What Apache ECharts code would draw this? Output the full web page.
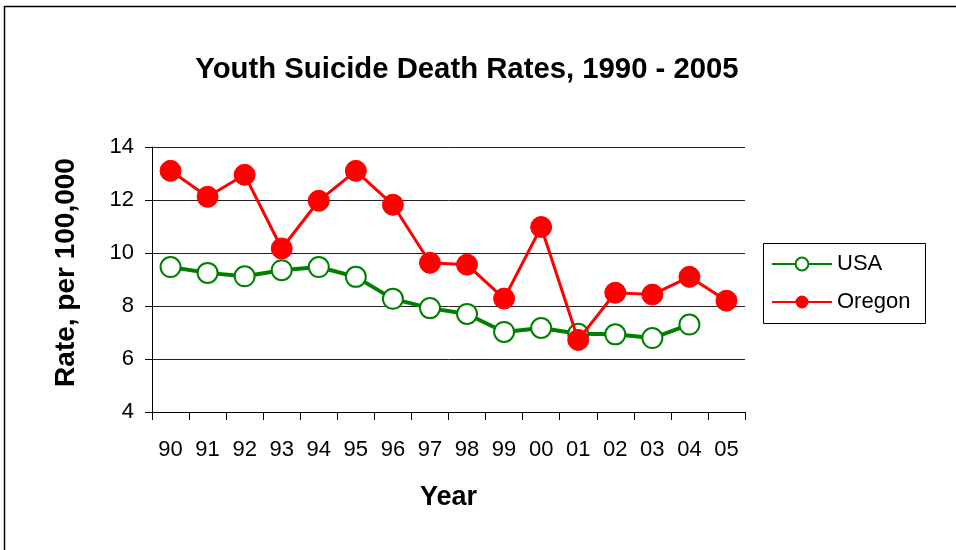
<!DOCTYPE html>
<html><head><meta charset="utf-8">
<script src="https://cdn.jsdelivr.net/npm/echarts@6/dist/echarts.min.js"></script>
<style>html,body{margin:0;padding:0;background:#fff}#c{width:956px;height:550px}</style>
</head><body><div id="c"></div>
<script>
const years = ['90','91','92','93','94','95','96','97','98','99','00','01','02','03','04','05'];
const usa = [9.47, 9.25, 9.12, 9.35, 9.47, 9.1, 8.27, 7.92, 7.7, 7.02, 7.17, 6.95, 6.93, 6.79, 7.3, null];
const oregon = [13.1, 12.12, 12.95, 10.17, 11.97, 13.1, 11.82, 9.63, 9.56, 8.28, 10.98, 6.72, 8.5, 8.43, 9.1, 8.2];
const font = 'Liberation Sans, Arial, sans-serif';
const chart = echarts.init(document.getElementById('c'));
chart.setOption({
  animation: false,
  backgroundColor: '#fff',
  title: {text: 'Youth Suicide Death Rates, 1990 - 2005', left: 462, top: 50, textAlign: 'center',
    textStyle: {fontFamily: font, fontSize: 29.3, fontWeight: 'bold', color: '#000'}},
  graphic: [
    {type: 'rect', shape: {x: 4.5, y: 6.5, width: 1000, height: 600}, style: {fill: 'none', stroke: '#000', lineWidth: 1.5}, silent: true},
    {type: 'rect', shape: {x: 763.5, y: 243.5, width: 162, height: 80}, style: {fill: 'none', stroke: '#000', lineWidth: 1}, silent: true}
  ],
  grid: {left: 152, top: 147, width: 593, height: 265},
  legend: {left: 771, top: 253, orient: 'vertical', itemGap: 16, padding: 0,
    itemWidth: 60, itemHeight: 16,
    textStyle: {fontFamily: font, fontSize: 22, color: '#000'},
    data: ['USA', 'Oregon']},
  xAxis: {type: 'category', data: years, boundaryGap: true,
    name: 'Year', nameLocation: 'middle', nameGap: 72,
    nameTextStyle: {fontFamily: font, fontSize: 27, fontWeight: 'bold', color: '#000'},
    axisLine: {lineStyle: {color: '#000', width: 1}},
    axisTick: {show: true, length: 8, lineStyle: {color: '#000'}},
    axisLabel: {fontFamily: font, fontSize: 22, color: '#000', margin: 27}},
  yAxis: {type: 'value', min: 4, max: 14, interval: 2,
    name: 'Rate, per 100,000', nameLocation: 'middle', nameGap: 72,
    nameTextStyle: {fontFamily: font, fontSize: 28, fontWeight: 'bold', color: '#000', padding: [0, 0, 0, 14]},
    axisLine: {show: true, lineStyle: {color: '#000'}},
    axisTick: {show: true, length: 7, lineStyle: {color: '#000'}},
    splitLine: {lineStyle: {color: '#222', width: 1}},
    axisLabel: {fontFamily: font, fontSize: 22, color: '#000', margin: 18}},
  series: [
    {name: 'USA', type: 'line', data: usa, symbol: 'circle', symbolSize: 20,
      lineStyle: {color: '#008000', width: 4}, itemStyle: {color: '#fff', borderColor: '#008000', borderWidth: 2}, z: 2},
    {name: 'Oregon', type: 'line', data: oregon, symbol: 'circle', symbolSize: 21,
      lineStyle: {color: '#ff0000', width: 3}, itemStyle: {color: '#ff0000', borderColor: '#ff0000'}, z: 3}
  ]
});
</script></body></html>
